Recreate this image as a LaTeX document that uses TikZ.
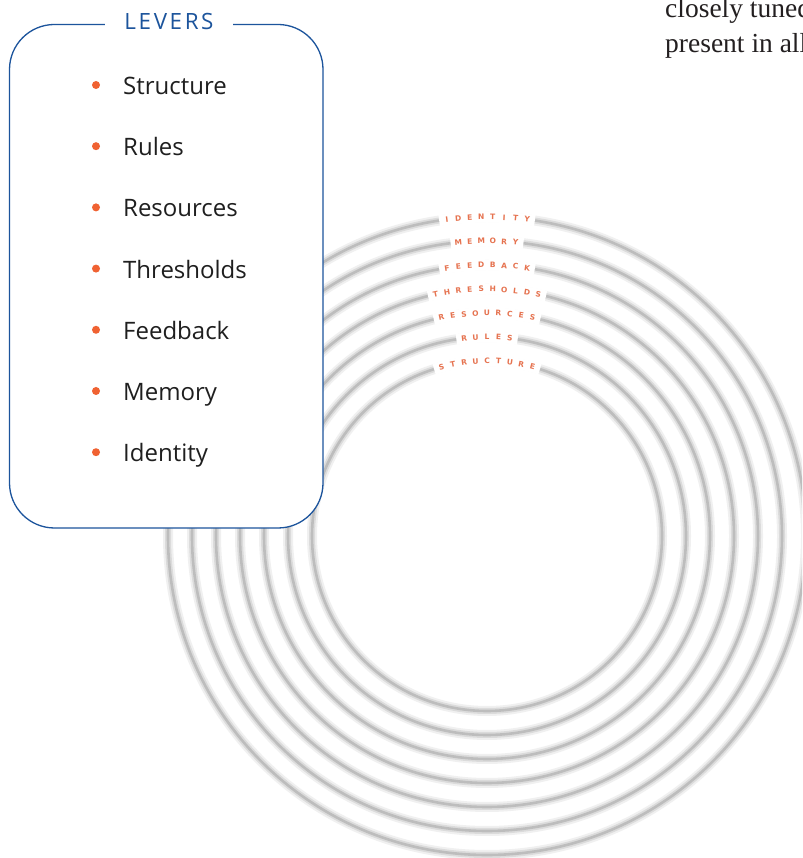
\documentclass[tikz,border=0pt]{standalone}
\usepackage{fontspec}
\setmainfont{Liberation Serif}
\newfontfamily\levfont{Open Sans}
\newfontfamily\ringfont{DejaVu Sans}
\definecolor{levblue}{RGB}{28,84,156}
\definecolor{bulorange}{RGB}{240,98,50}
\definecolor{ringlab}{RGB}{230,115,80}
\definecolor{txtdark}{RGB}{35,31,32}
\tikzset{
  ringhalo/.style={draw=black!6, line width=10pt},
  ringmid/.style={draw=black!14, line width=6pt},
  ringcore/.style={draw=black!26, line width=2.6pt},
  levbox/.style={draw=levblue, line width=1.3pt, fill=white, rounded corners=45pt, rectangle},
  bulletdot/.style={circle, fill=bulorange, inner sep=0pt, minimum size=8pt},
  itemtext/.style={anchor=base west, inner sep=0pt, font=\levfont\fontsize{24}{28}\selectfont, text=black!88},
  ringletter/.style={inner sep=0pt, font=\ringfont\bfseries\fontsize{7.5}{8}\selectfont, text=ringlab},
  bodytext/.style={anchor=base west, inner sep=0pt, font=\fontsize{27.5}{35}\selectfont, text=txtdark},
}
\newcommand\drawringlabel[3]{%
  \pgfmathsetmacro\stepang{11.5/#1*180/pi}%
  \pgfmathsetmacro\halfspan{(#2*11.5/2+2)/#1*180/pi}%
  \draw[white, line width=11pt] ({487+#1*cos(90+\halfspan)},{322+#1*sin(90+\halfspan)}) arc[start angle=90+\halfspan, end angle=90-\halfspan, radius=#1];
  \foreach \ch [count=\i] in {#3}{%
    \pgfmathsetmacro\ang{90+((#2+1)/2-\i)*\stepang}%
    \node[ringletter, rotate=\ang-90] at ({487+#1*cos(\ang)},{322+#1*sin(\ang)}) {\ch};
  }%
}
\begin{document}
\begin{tikzpicture}[x=1pt,y=1pt]
\clip (0,0) rectangle (802,858);
\fill[white] (0,0) rectangle (802,858);
% rings
\coordinate (C) at (487,322);
\foreach \r in {175,199,223,247,271,295,319}{
  \draw[ringhalo] (C) circle[radius=\r];
  \draw[ringmid] (C) circle[radius=\r];
  \draw[ringcore] (C) circle[radius=\r];
}
% ring labels
\drawringlabel{319}{8}{I,D,E,N,T,I,T,Y}
\drawringlabel{295}{6}{M,E,M,O,R,Y}
\drawringlabel{271}{8}{F,E,E,D,B,A,C,K}
\drawringlabel{247}{10}{T,H,R,E,S,H,O,L,D,S}
\drawringlabel{223}{9}{R,E,S,O,U,R,C,E,S}
\drawringlabel{199}{5}{R,U,L,E,S}
\drawringlabel{175}{9}{S,T,R,U,C,T,U,R,E}
% levers box
\node[levbox, minimum width=313.5pt, minimum height=503.5pt] (box) at (166.25,581.75) {};
\node[fill=white, inner xsep=19pt, inner ysep=3pt, text=levblue, font=\levfont\fontsize{22.4}{26}\selectfont] (title) at (169,836) {L\kern2.6pt E\kern2.6pt V\kern2.6pt E\kern2.6pt R\kern2.6pt S};
\foreach \t [count=\i] in {Structure,Rules,Resources,Thresholds,Feedback,Memory,Identity}{
  \pgfmathsetmacro\yb{773-(\i-1)*61.2}
  \node[bulletdot] (dot\i) at (96,\yb) {};
  \node[itemtext] (item\i) at (123,\yb-9.5) {\t};
}
% body text at top right (cut by the page edge, as in the source)
\node[bodytext] (line1) at (665,840) {closely tuned};
\node[bodytext] (line2) at (665,805) {present in all};
\end{tikzpicture}
\end{document}
